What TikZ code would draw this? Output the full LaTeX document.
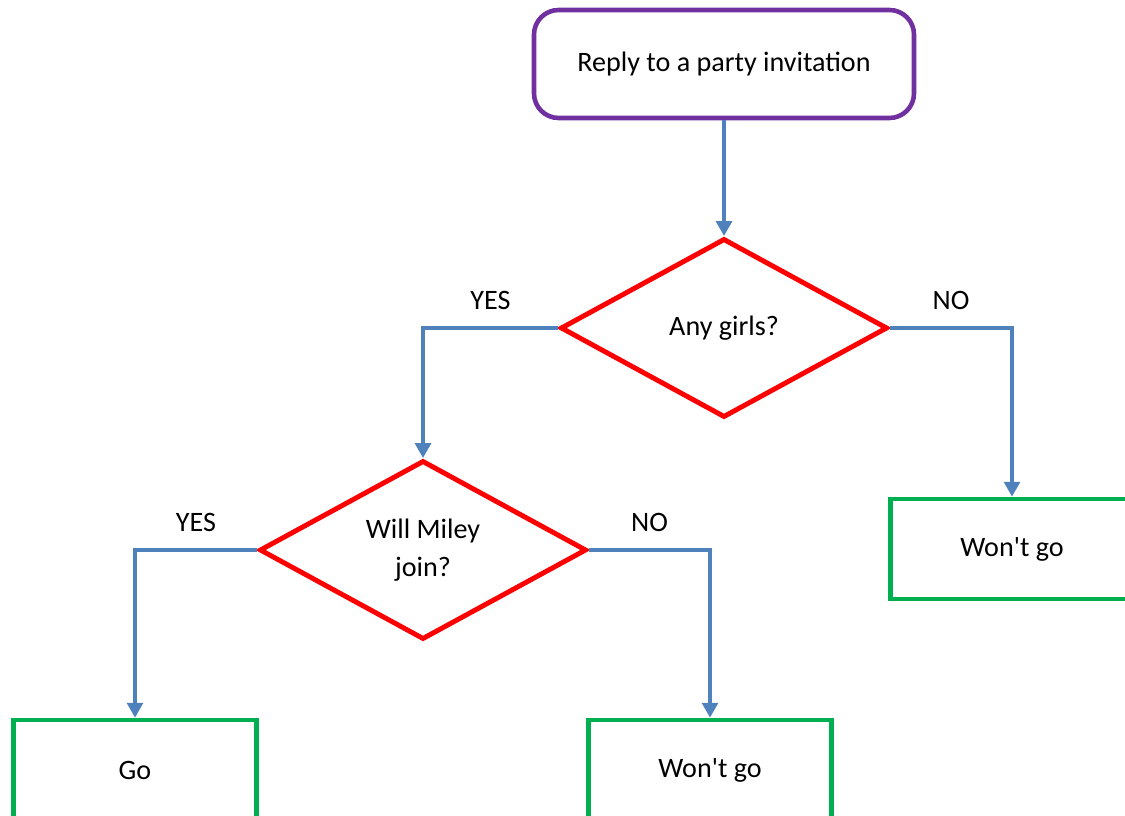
\documentclass[tikz,border=0pt]{standalone}
\usepackage{fontspec}
\setmainfont{Carlito}
\usepackage{xcolor}
\usetikzlibrary{arrows.meta, shapes.geometric, positioning}
\definecolor{lineblue}{RGB}{79,129,189}
\definecolor{startpurple}{RGB}{112,48,160}
\definecolor{endgreen}{RGB}{0,176,80}

\begin{document}
\begin{tikzpicture}[
  every node/.style={font=\fontsize{16}{22}\selectfont},
  startbox/.style={draw=startpurple, line width=2.6pt, rounded corners=14pt,
                   minimum width=7.6cm, minimum height=2.16cm},
  decision/.style={draw=red, line width=2.8pt, diamond, aspect=1.8, inner sep=0pt,
                   align=center, minimum width=6.54cm, minimum height=3.58cm},
  endbox/.style={draw=endgreen, line width=2.6pt,
                 minimum width=4.86cm, minimum height=2cm},
  flow/.style={draw=lineblue, line width=2pt, -{Triangle[length=8.5pt, width=9pt]}},
  answer/.style={pos=0.25, above=6pt, draw=none},
]
\clip (0,0) rectangle (22.5,-16.32);

\node[startbox] (start) at (14.48,-1.28) {Reply to a party invitation};
\node[decision] (girls) at (14.48,-6.56) {Any girls?};
\node[decision] (miley) at (8.46,-11.0) {Will Miley\\join?};
\node[endbox] (nogirls) at (20.24,-10.98) {Won\textquotesingle t go};
\node[endbox] (go) at (2.7,-15.4) {Go};
\node[endbox] (nomiley) at (14.2,-15.4) {Won\textquotesingle t go};

\draw[flow] (start) -- (girls);
\draw[flow] (girls.west) -| node[answer] {YES} (miley.north);
\draw[flow] (girls.east) -| node[answer] {NO} (nogirls.north);
\draw[flow] (miley.west) -| node[answer] {YES} (go.north);
\draw[flow] (miley.east) -| node[answer] {NO} (nomiley.north);
\end{tikzpicture}
\end{document}
